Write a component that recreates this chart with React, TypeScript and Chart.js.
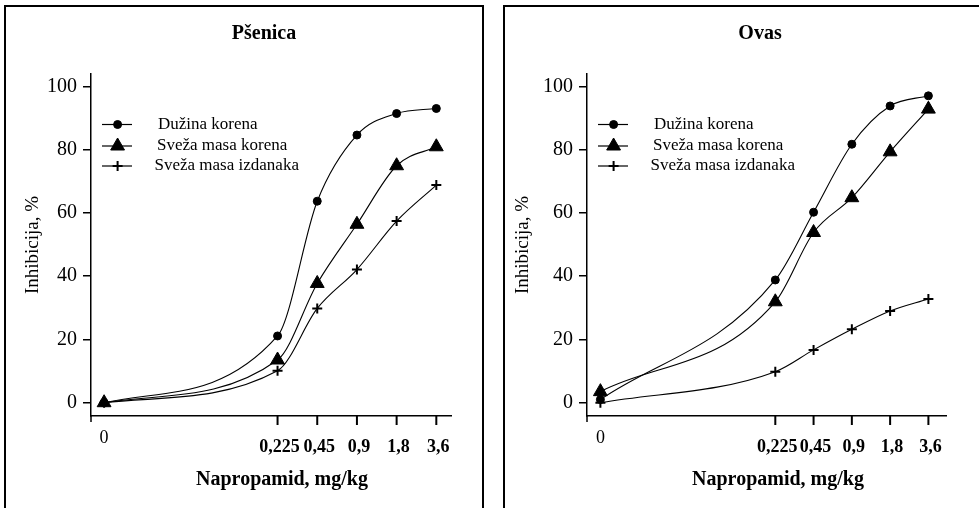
import React, { useEffect, useRef } from 'react';
import { Chart, registerables } from 'chart.js';
import { drawPoint } from 'chart.js/helpers';

Chart.register(...registerables);

// ---------- data ----------
const doseLabels = ['0', '0,225', '0,45', '0,9', '1,8', '3,6'];
const doses = [0, 0.225, 0.45, 0.9, 1.8, 3.6];
const yTicks = [0, 20, 40, 60, 80, 100];
const seriesNames = ['Dužina korena', 'Sveža masa korena', 'Sveža masa izdanaka'];
const pointStyles = ['circle', 'triangle', 'cross'];

const psenicaDuzinaKorena = [0, 21.1, 63.7, 84.6, 91.4, 93.0];
const psenicaSvezaMasaKorena = [0, 13.5, 37.7, 56.4, 74.9, 80.9];
const psenicaSvezaMasaIzdanaka = [0, 10.1, 29.8, 42.1, 57.4, 68.8];

const ovasDuzinaKorena = [1, 38.8, 60.2, 81.7, 93.8, 97.0];
const ovasSvezaMasaKorena = [3.5, 31.9, 53.8, 64.8, 79.3, 92.8];
const ovasSvezaMasaIzdanaka = [0, 9.8, 16.7, 23.2, 29.0, 32.8];

const FONT = "'Liberation Serif', 'Times New Roman', serif";

type PanelCfg = {
  title: string;
  values: number[][];
  canvasLeft: number;
  canvasWidth: number;
  yAxisWidth: number;
  padRight: number;
  xMin: number;
  xMax: number;
  zeroPos: number;
};

const panels: PanelCfg[] = [
  {
    title: 'Pšenica',
    values: [psenicaDuzinaKorena, psenicaSvezaMasaKorena, psenicaSvezaMasaIzdanaka],
    canvasLeft: 0,
    canvasWidth: 490,
    yAxisWidth: 91,
    padRight: 39,
    xMin: -4.7,
    xMax: 4.37,
    zeroPos: -4.37,
  },
  {
    title: 'Ovas',
    values: [ovasDuzinaKorena, ovasSvezaMasaKorena, ovasSvezaMasaIzdanaka],
    canvasLeft: 490,
    canvasWidth: 489,
    yAxisWidth: 97,
    padRight: 33,
    xMin: -4.92,
    xMax: 4.46,
    zeroPos: -4.57,
  },
];

// dose -> position on a log2 axis (zero dose placed at a fixed spot left of 0,225)
const xPos = (d: number, zeroPos: number) => (d === 0 ? zeroPos : Math.log2(d / doses[1]));

const markerRadius = [4, 8, 5];
const markerBorder = [1, 1, 2];

const decorPlugin = {
  id: 'panelDecor',
  afterDraw(chart: any, _args: any, opts: any) {
    const ctx: CanvasRenderingContext2D = chart.ctx;
    const area = chart.chartArea;
    const xs = chart.scales.x;
    ctx.save();
    ctx.strokeStyle = '#000';
    ctx.fillStyle = '#000';

    // small extension of y axis below x axis
    ctx.lineWidth = 1.5;
    ctx.beginPath();
    ctx.moveTo(area.left, area.bottom);
    ctx.lineTo(area.left, area.bottom + 6);
    ctx.stroke();

    // x tick marks (not at zero dose)
    ctx.lineWidth = 2;
    doses.forEach((d, i) => {
      if (i === 0) return;
      const px = xs.getPixelForValue(xPos(d, opts.zeroPos));
      ctx.beginPath();
      ctx.moveTo(px, area.bottom);
      ctx.lineTo(px, area.bottom + 9);
      ctx.stroke();
    });

    // x tick labels
    ctx.textAlign = 'center';
    ctx.textBaseline = 'middle';
    doses.forEach((d, i) => {
      const px = xs.getPixelForValue(xPos(d, opts.zeroPos));
      ctx.font = i === 0 ? `18px ${FONT}` : `bold 18px ${FONT}`;
      ctx.fillText(doseLabels[i], px + (i === 0 ? 0 : 2), area.bottom + (i === 0 ? 22 : 31));
    });

    // title
    ctx.font = `bold 20px ${FONT}`;
    ctx.fillText(opts.title, area.left + 173, 34);

    // x axis title
    ctx.fillText('Napropamid, mg/kg', area.left + 191, 480);

    // legend
    const rowY = [50.5, 72, 92];
    const textX = [67, 66, 63.5];
    seriesNames.forEach((name, i) => {
      const y = area.top + rowY[i];
      ctx.lineWidth = 1.2;
      ctx.beginPath();
      ctx.moveTo(area.left + 11, y);
      ctx.lineTo(area.left + 41, y);
      ctx.stroke();
      ctx.lineWidth = markerBorder[i];
      drawPoint(ctx, { pointStyle: pointStyles[i] as any, radius: markerRadius[i], rotation: 0, borderWidth: markerBorder[i] }, area.left + 26.6, y);
      ctx.textAlign = 'left';
      ctx.font = `17px ${FONT}`;
      ctx.fillText(name, area.left + textX[i], y);
    });
    ctx.restore();
  },
};

function Panel({ cfg }: { cfg: PanelCfg }) {
  const ref = useRef<HTMLCanvasElement>(null);
  useEffect(() => {
    if (!ref.current) return;
    const chart = new Chart(ref.current, {
      type: 'line',
      data: {
        datasets: cfg.values.map((vals, i) => ({
          label: seriesNames[i],
          data: doses.map((d, j) => ({ x: xPos(d, cfg.zeroPos), y: vals[j] })),
          borderColor: '#000',
          backgroundColor: '#000',
          borderWidth: 1.1,
          pointStyle: pointStyles[i] as any,
          pointRadius: markerRadius[i],
          pointBorderWidth: markerBorder[i],
          pointBackgroundColor: '#000',
          pointBorderColor: '#000',
          cubicInterpolationMode: 'monotone',
          fill: false,
        })),
      },
      options: {
        animation: false,
        responsive: false,
        maintainAspectRatio: false,
        layout: { padding: { left: 0, top: 74, right: cfg.padRight, bottom: 0 } },
        plugins: {
          legend: { display: false },
          tooltip: { enabled: false },
          title: { display: false },
          panelDecor: { title: cfg.title, zeroPos: cfg.zeroPos },
        } as any,
        scales: {
          x: {
            type: 'linear',
            min: cfg.xMin,
            max: cfg.xMax,
            grid: { display: false, drawTicks: false },
            ticks: { display: false },
            border: { display: true, color: '#000', width: 1.5 },
            afterFit: (s: any) => {
              s.height = 92;
            },
          },
          y: {
            type: 'linear',
            min: -4.2,
            max: 103.9,
            afterBuildTicks: (s: any) => {
              s.ticks = yTicks.map((v) => ({ value: v }));
            },
            grid: { display: true, drawOnChartArea: false, drawTicks: true, tickLength: 8, color: '#000', lineWidth: 1.5 },
            border: { display: true, color: '#000', width: 1.5 },
            ticks: { color: '#000', font: { family: FONT, size: 20 }, padding: 6 },
            title: {
              display: true,
              text: 'Inhibicija, %',
              color: '#000',
              font: { family: FONT, size: 19 },
              padding: { top: 22, bottom: 0 },
            },
            afterFit: (s: any) => {
              s.width = cfg.yAxisWidth;
            },
          },
        } as any,
      },
      plugins: [decorPlugin],
    });
    return () => chart.destroy();
  }, [cfg]);
  return (
    <canvas
      ref={ref}
      width={cfg.canvasWidth}
      height={508}
      style={{ position: 'absolute', left: cfg.canvasLeft, top: 0, width: cfg.canvasWidth, height: 508 }}
    />
  );
}

export default function App() {
  return (
    <div
      style={{
        position: 'fixed',
        left: 0,
        top: 0,
        width: 979,
        height: 508,
        overflow: 'hidden',
        background: '#fff',
      }}
    >
      <div
        style={{
          position: 'absolute',
          left: 4,
          top: 5,
          width: 480,
          height: 560,
          border: '2px solid #000',
          boxSizing: 'border-box',
        }}
      />
      <div
        style={{
          position: 'absolute',
          left: 503,
          top: 5,
          width: 520,
          height: 560,
          border: '2px solid #000',
          boxSizing: 'border-box',
        }}
      />
      {panels.map((p) => (
        <Panel key={p.title} cfg={p} />
      ))}
    </div>
  );
}
